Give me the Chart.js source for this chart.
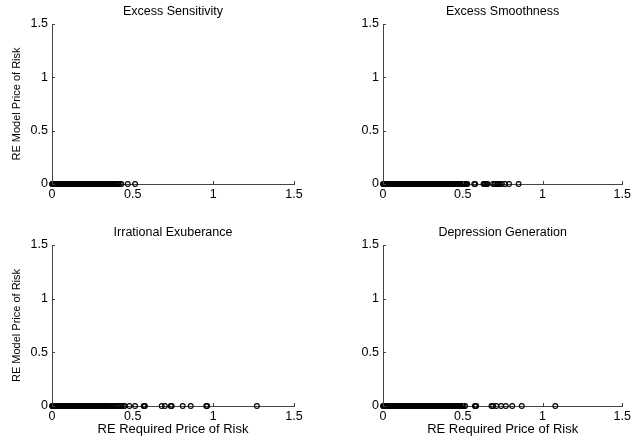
<!DOCTYPE html>
<html>
<head>
<meta charset="utf-8">
<script src="https://cdn.jsdelivr.net/npm/chart.js@4.4.0/dist/chart.umd.min.js"></script>
<style>
  html, body { margin: 0; padding: 0; background: #fff; }
  #wrap { position: relative; width: 634px; height: 442px; }
  .panel { position: absolute; width: 317px; height: 221px; }
</style>
</head>
<body>
<div id="wrap">
  <div class="panel" style="left:0;top:0"><canvas id="c1"></canvas></div>
  <div class="panel" style="left:317px;top:0"><canvas id="c2"></canvas></div>
  <div class="panel" style="left:0;top:221px"><canvas id="c3"></canvas></div>
  <div class="panel" style="left:317px;top:221px"><canvas id="c4"></canvas></div>
</div>
<script>
// titles and axis labels
const titles = ['Excess Sensitivity', 'Excess Smoothness', 'Irrational Exuberance', 'Depression Generation'];
const yLabel = 'RE Model Price of Risk';
const xLabel = 'RE Required Price of Risk';
const tickValues = [0, 0.5, 1, 1.5];

// RE required price of risk (x); RE model price of risk is 0 for every point
const sensitivityX = [0.000, 0.003, 0.007, 0.011, 0.015, 0.019, 0.023, 0.027, 0.031, 0.035, 0.040, 0.044, 0.048,
  0.052, 0.057, 0.061, 0.066, 0.070, 0.075, 0.079, 0.084, 0.088, 0.093, 0.098, 0.102, 0.107, 0.112, 0.117, 0.121,
  0.126, 0.131, 0.136, 0.141, 0.146, 0.151, 0.156, 0.161, 0.166, 0.171, 0.176, 0.181, 0.186, 0.191, 0.196, 0.201,
  0.206, 0.211, 0.216, 0.221, 0.226, 0.231, 0.236, 0.241, 0.246, 0.251, 0.256, 0.261, 0.266, 0.271, 0.276, 0.281,
  0.286, 0.291, 0.296, 0.301, 0.306, 0.311, 0.316, 0.321, 0.326, 0.331, 0.336, 0.341, 0.346, 0.351, 0.356, 0.361,
  0.366, 0.371, 0.376, 0.381, 0.387, 0.394, 0.402, 0.410, 0.420, 0.430, 0.470, 0.515];
const smoothnessX = [0.000, 0.004, 0.008, 0.012, 0.016, 0.020, 0.025, 0.029, 0.033, 0.038, 0.042, 0.047, 0.051,
  0.056, 0.060, 0.065, 0.069, 0.074, 0.079, 0.083, 0.088, 0.093, 0.098, 0.102, 0.107, 0.112, 0.117, 0.122, 0.127,
  0.132, 0.137, 0.142, 0.147, 0.152, 0.157, 0.162, 0.167, 0.172, 0.177, 0.182, 0.187, 0.192, 0.197, 0.202, 0.207,
  0.212, 0.217, 0.222, 0.227, 0.232, 0.237, 0.242, 0.247, 0.252, 0.257, 0.262, 0.267, 0.272, 0.277, 0.282, 0.287,
  0.292, 0.297, 0.302, 0.307, 0.312, 0.317, 0.322, 0.327, 0.332, 0.337, 0.342, 0.347, 0.352, 0.357, 0.362, 0.367,
  0.372, 0.377, 0.382, 0.387, 0.392, 0.397, 0.402, 0.407, 0.412, 0.417, 0.422, 0.427, 0.432, 0.437, 0.442, 0.447,
  0.452, 0.457, 0.462, 0.467, 0.472, 0.477, 0.482, 0.487, 0.492, 0.497, 0.502, 0.507, 0.512, 0.517, 0.522, 0.528,
  0.572, 0.578, 0.630, 0.636, 0.642, 0.648, 0.655, 0.690, 0.700, 0.710, 0.720, 0.730, 0.745, 0.765, 0.790, 0.850];
const exuberanceX = [0.000, 0.003, 0.006, 0.010, 0.013, 0.017, 0.021, 0.025, 0.029, 0.033, 0.037, 0.041, 0.045,
  0.049, 0.054, 0.058, 0.062, 0.067, 0.071, 0.076, 0.080, 0.085, 0.090, 0.095, 0.100, 0.105, 0.110, 0.115, 0.120,
  0.125, 0.130, 0.135, 0.140, 0.145, 0.150, 0.155, 0.160, 0.165, 0.170, 0.175, 0.180, 0.185, 0.190, 0.195, 0.200,
  0.205, 0.210, 0.215, 0.220, 0.225, 0.230, 0.235, 0.240, 0.245, 0.250, 0.255, 0.260, 0.265, 0.270, 0.275, 0.280,
  0.285, 0.290, 0.295, 0.300, 0.305, 0.310, 0.315, 0.320, 0.325, 0.330, 0.335, 0.340, 0.346, 0.352, 0.358, 0.364,
  0.370, 0.380, 0.390, 0.400, 0.410, 0.420, 0.430, 0.440, 0.450, 0.480, 0.515, 0.568, 0.572, 0.576, 0.680, 0.700,
  0.736, 0.742, 0.810, 0.860, 0.956, 0.962, 1.270];
const depressionX = [0.000, 0.004, 0.008, 0.012, 0.016, 0.020, 0.024, 0.028, 0.033, 0.037, 0.041, 0.046, 0.050,
  0.055, 0.059, 0.064, 0.068, 0.073, 0.078, 0.083, 0.088, 0.093, 0.098, 0.103, 0.108, 0.113, 0.118, 0.123, 0.128,
  0.133, 0.138, 0.143, 0.148, 0.153, 0.158, 0.163, 0.168, 0.173, 0.178, 0.183, 0.188, 0.193, 0.198, 0.203, 0.208,
  0.213, 0.218, 0.223, 0.228, 0.233, 0.238, 0.243, 0.248, 0.253, 0.258, 0.263, 0.268, 0.273, 0.278, 0.283, 0.288,
  0.293, 0.298, 0.303, 0.308, 0.313, 0.318, 0.323, 0.328, 0.333, 0.338, 0.343, 0.348, 0.353, 0.358, 0.363, 0.368,
  0.373, 0.378, 0.383, 0.388, 0.393, 0.398, 0.403, 0.408, 0.413, 0.418, 0.423, 0.428, 0.433, 0.438, 0.443, 0.448,
  0.453, 0.458, 0.463, 0.468, 0.473, 0.478, 0.484, 0.490, 0.497, 0.505, 0.515, 0.576, 0.580, 0.584, 0.680, 0.690,
  0.710, 0.740, 0.770, 0.810, 0.870, 1.080];

const panels = [
  { id: 'c1', x: sensitivityX, yTitle: true, xTitle: false, yWidth: 52, padRight: 23 },
  { id: 'c2', x: smoothnessX, yTitle: false, xTitle: false, yWidth: 66, padRight: 9 },
  { id: 'c3', x: exuberanceX, yTitle: true, xTitle: true, yWidth: 52, padRight: 23 },
  { id: 'c4', x: depressionX, yTitle: false, xTitle: true, yWidth: 66, padRight: 9 }
];

const FONT = 'Liberation Sans, Arial, Helvetica, sans-serif';
const AXIS = '#444';

// matlab style inward ticks
const inwardTicks = {
  id: 'inwardTicks',
  afterDraw(chart) {
    const { ctx, scales: { x, y } } = chart;
    ctx.save();
    ctx.strokeStyle = AXIS;
    ctx.lineWidth = 1;
    ctx.beginPath();
    tickValues.forEach(v => {
      const px = Math.round(x.getPixelForValue(v)) + 0.5;
      ctx.moveTo(px, y.bottom);
      ctx.lineTo(px, y.bottom - 3);
      const py = Math.round(y.getPixelForValue(v)) + 0.5;
      ctx.moveTo(x.left, py);
      ctx.lineTo(x.left + 3, py);
    });
    ctx.stroke();
    ctx.restore();
  }
};

panels.forEach((p, i) => {
  const data = p.x.map(v => ({ x: v, y: 0 }));
  new Chart(document.getElementById(p.id), {
    type: 'scatter',
    data: {
      datasets: [{
        data,
        pointStyle: 'circle',
        pointRadius: 2.4,
        pointBorderWidth: 1.1,
        pointBorderColor: '#000',
        pointBackgroundColor: 'rgba(0,0,0,0)',
        clip: false
      }]
    },
    options: {
      responsive: true,
      maintainAspectRatio: false,
      animation: false,
      layout: { padding: { left: 0, right: p.padRight, top: 0, bottom: 0 } },
      plugins: {
        legend: { display: false },
        tooltip: { enabled: false },
        title: {
          display: true,
          text: titles[i],
          fullSize: false,
          color: '#000',
          font: { family: FONT, size: 12.5, weight: 'normal' },
          padding: { top: 4, bottom: 5 }
        }
      },
      scales: {
        x: {
          type: 'linear',
          min: 0, max: 1.5,
          afterBuildTicks: s => { s.ticks = tickValues.map(v => ({ value: v })); },
          afterFit: s => { s.height = i < 2 ? 37 : 36; },
          grid: { display: true, drawOnChartArea: false, drawTicks: false },
          border: { display: true, color: AXIS, width: 1 },
          ticks: {
            color: '#000', padding: 3, maxRotation: 0,
            font: { family: FONT, size: 12.5 },
            callback: v => String(v)
          },
          title: {
            display: p.xTitle,
            text: xLabel,
            color: '#000',
            font: { family: FONT, size: 13 },
            padding: { top: 6, bottom: 5 }
          }
        },
        y: {
          type: 'linear',
          min: 0, max: 1.5,
          afterBuildTicks: s => { s.ticks = tickValues.map(v => ({ value: v })); },
          afterFit: s => { s.width = p.yWidth; },
          grid: { display: true, drawOnChartArea: false, drawTicks: false },
          border: { display: true, color: AXIS, width: 1 },
          ticks: {
            color: '#000', padding: 4,
            font: { family: FONT, size: 12.5 },
            callback: v => String(v)
          },
          title: {
            display: p.yTitle,
            text: yLabel,
            color: '#000',
            font: { family: FONT, size: 11 },
            padding: { top: 10, bottom: 0 }
          }
        }
      }
    },
    plugins: [inwardTicks]
  });
});
</script>
</body>
</html>
